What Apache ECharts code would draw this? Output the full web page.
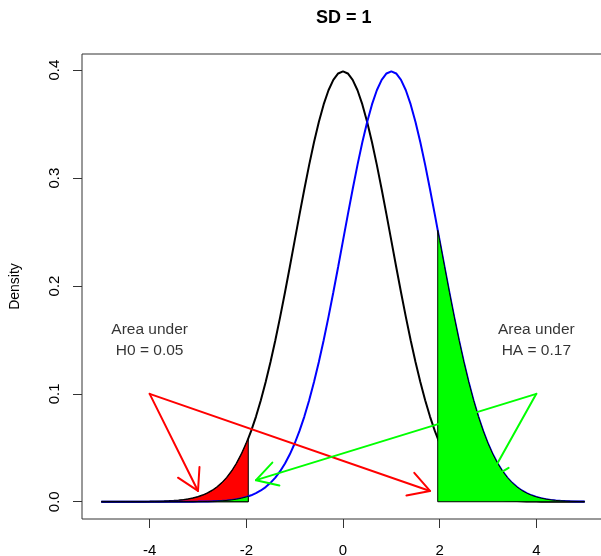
<!DOCTYPE html>
<html>
<head>
<meta charset="utf-8">
<title>SD = 1</title>
<script src="https://cdn.jsdelivr.net/npm/echarts@6/dist/echarts.min.js"></script>
<style>
  html, body { margin: 0; padding: 0; background: #fff; }
  #chart { width: 601px; height: 556px; }
</style>
</head>
<body>
<div id="chart"></div>
<script>
// Sampling positions along x (step 0.1 from -5 to 5)
const xs = Array.from({ length: 101 }, (_, i) => +(-5 + i * 0.1).toFixed(1));

// Density under H0 (mean 0, sd 1) at each x
const densityH0 = [
  0.00000, 0.00000, 0.00000, 0.00001, 0.00001, 0.00002, 0.00002, 0.00004, 0.00006, 0.00009,
  0.00013, 0.00020, 0.00029, 0.00042, 0.00061, 0.00087, 0.00123, 0.00172, 0.00238, 0.00327,
  0.00443, 0.00595, 0.00792, 0.01042, 0.01358, 0.01753, 0.02239, 0.02833, 0.03547, 0.04398,
  0.05399, 0.06562, 0.07895, 0.09405, 0.11092, 0.12952, 0.14973, 0.17137, 0.19419, 0.21785,
  0.24197, 0.26609, 0.28969, 0.31225, 0.33322, 0.35207, 0.36827, 0.38139, 0.39104, 0.39695,
  0.39894,
  0.39695, 0.39104, 0.38139, 0.36827, 0.35207, 0.33322, 0.31225, 0.28969, 0.26609, 0.24197,
  0.21785, 0.19419, 0.17137, 0.14973, 0.12952, 0.11092, 0.09405, 0.07895, 0.06562, 0.05399,
  0.04398, 0.03547, 0.02833, 0.02239, 0.01753, 0.01358, 0.01042, 0.00792, 0.00595, 0.00443,
  0.00327, 0.00238, 0.00172, 0.00123, 0.00087, 0.00061, 0.00042, 0.00029, 0.00020, 0.00013,
  0.00009, 0.00006, 0.00004, 0.00002, 0.00002, 0.00001, 0.00001, 0.00000, 0.00000, 0.00000
];

// Density under HA (mean 1, sd 1) at each x
const densityHA = [
  0.00000, 0.00000, 0.00000, 0.00000, 0.00000, 0.00000, 0.00000, 0.00000, 0.00000, 0.00000,
  0.00000, 0.00000, 0.00000, 0.00001, 0.00001, 0.00002, 0.00002, 0.00004, 0.00006, 0.00009,
  0.00013, 0.00020, 0.00029, 0.00042, 0.00061, 0.00087, 0.00123, 0.00172, 0.00238, 0.00327,
  0.00443, 0.00595, 0.00792, 0.01042, 0.01358, 0.01753, 0.02239, 0.02833, 0.03547, 0.04398,
  0.05399, 0.06562, 0.07895, 0.09405, 0.11092, 0.12952, 0.14973, 0.17137, 0.19419, 0.21785,
  0.24197, 0.26609, 0.28969, 0.31225, 0.33322, 0.35207, 0.36827, 0.38139, 0.39104, 0.39695,
  0.39894,
  0.39695, 0.39104, 0.38139, 0.36827, 0.35207, 0.33322, 0.31225, 0.28969, 0.26609, 0.24197,
  0.21785, 0.19419, 0.17137, 0.14973, 0.12952, 0.11092, 0.09405, 0.07895, 0.06562, 0.05399,
  0.04398, 0.03547, 0.02833, 0.02239, 0.01753, 0.01358, 0.01042, 0.00792, 0.00595, 0.00443,
  0.00327, 0.00238, 0.00172, 0.00123, 0.00087, 0.00061, 0.00042, 0.00029, 0.00020, 0.00013
];

// Critical values and the densities at them
const cutLow = -1.96;
const cutHigh = 1.96;
const h0AtCutLow = 0.05844;
const haAtCutLow = 0.00499;
const haAtCutHigh = 0.25164;

// Tick labels
const xTicks = [-4, -2, 0, 2, 4];
const yTicks = [0, 0.1, 0.2, 0.3, 0.4];

// Annotations: [x, y, text]
const notes = [
  [-4, 0.15, 'Area under\nH0 = 0.05'],
  [4, 0.15, 'Area under\nHA = 0.17']
];

// Arrows: [x0, y0, x1, y1]
const redArrows = [[-4, 0.1, -3, 0.01], [-4, 0.1, 1.8, 0.01]];
const greenArrows = [[4, 0.1, 3, 0.02], [4, 0.1, -1.8, 0.02]];

const pairs = (ys) => xs.map((x, i) => [x, ys[i]]);
const curveH0 = pairs(densityH0);
const curveHA = pairs(densityHA);

// Tail regions as closed polygons
const redTail = curveH0.filter(p => p[0] <= -2 + 1e-9)
  .concat([[cutLow, h0AtCutLow], [cutLow, 0], [-5, 0]]);
const greenLeftTail = curveHA.filter(p => p[0] <= -2 + 1e-9)
  .concat([[cutLow, haAtCutLow], [cutLow, 0], [-5, 0]]);
const greenRightTail = [[cutHigh, 0], [cutHigh, haAtCutHigh]]
  .concat(curveHA.filter(p => p[0] >= 2 - 1e-9))
  .concat([[5, 0]]);

function polygonSeries(points, fill, z) {
  return {
    type: 'custom',
    z: z,
    silent: true,
    data: points,
    renderItem: function (params, api) {
      if (params.dataIndex !== 0) return;
      return {
        type: 'polygon',
        shape: { points: points.map(p => api.coord(p)) },
        style: { fill: fill, stroke: '#000', lineWidth: 1 }
      };
    }
  };
}

function arrowSeries(list, color, z) {
  const headLen = 24;
  const headAngle = Math.PI / 6;
  return {
    type: 'custom',
    z: z,
    silent: true,
    data: list,
    renderItem: function (params, api) {
      const p0 = api.coord([api.value(0), api.value(1)]);
      const p1 = api.coord([api.value(2), api.value(3)]);
      const a = Math.atan2(p1[1] - p0[1], p1[0] - p0[0]);
      const b1 = [p1[0] - headLen * Math.cos(a - headAngle), p1[1] - headLen * Math.sin(a - headAngle)];
      const b2 = [p1[0] - headLen * Math.cos(a + headAngle), p1[1] - headLen * Math.sin(a + headAngle)];
      const style = { stroke: color, lineWidth: 2, fill: null, lineCap: 'round', lineJoin: 'round' };
      return {
        type: 'group',
        children: [
          { type: 'polyline', shape: { points: [p0, p1] }, style: style },
          { type: 'polyline', shape: { points: [b1, p1, b2] }, style: style }
        ]
      };
    }
  };
}

const FONT = '"Liberation Sans", Arial, Helvetica, sans-serif';
const chart = echarts.init(document.getElementById('chart'), null, { renderer: 'canvas' });

chart.setOption({
  animation: false,
  backgroundColor: '#fff',
  title: {
    text: 'SD = 1',
    left: 311,
    top: 4,
    textStyle: { fontFamily: FONT, fontSize: 18, fontWeight: 'bold', color: '#000' }
  },
  grid: {
    left: 82, top: 54, bottom: 37, right: -3,
    show: true, borderColor: '#333', borderWidth: 1,
    outerBoundsMode: 'none'
  },
  xAxis: {
    type: 'value',
    min: -5.4, max: 5.4,
    axisLine: { show: false, onZero: false },
    splitLine: { show: false },
    axisTick: { show: true, inside: false, length: 9, customValues: xTicks, lineStyle: { color: '#333', width: 1 } },
    axisLabel: {
      customValues: xTicks, margin: 24,
      fontFamily: FONT, fontSize: 15, color: '#000',
      formatter: v => String(v)
    }
  },
  yAxis: {
    type: 'value',
    min: -0.016, max: 0.415,
    name: 'Density',
    nameLocation: 'middle',
    nameRotate: 90,
    nameGap: 60,
    nameTextStyle: { fontFamily: FONT, fontSize: 14, color: '#000' },
    axisLine: { show: false, onZero: false },
    splitLine: { show: false },
    axisTick: { show: true, inside: false, length: 9, customValues: yTicks, lineStyle: { color: '#333', width: 1 } },
    axisLabel: {
      customValues: yTicks, rotate: 90, margin: 20,
      fontFamily: FONT, fontSize: 15, color: '#000',
      formatter: v => v.toFixed(1)
    }
  },
  series: [
    {
      type: 'line', name: 'H0', data: curveH0, z: 2,
      showSymbol: false, symbol: 'none', silent: true,
      lineStyle: { color: '#000', width: 2 }
    },
    polygonSeries(redTail, '#ff0000', 3),
    {
      type: 'line', name: 'HA', data: curveHA, z: 4,
      showSymbol: false, symbol: 'none', silent: true,
      lineStyle: { color: '#0000ff', width: 2 }
    },
    polygonSeries(greenLeftTail, '#00ff00', 5),
    polygonSeries(greenRightTail, '#00ff00', 5),
    arrowSeries(redArrows, '#ff0000', 6),
    arrowSeries(greenArrows, '#00ff00', 6),
    {
      type: 'scatter', z: 7, silent: true,
      symbolSize: 0,
      data: notes.map(n => ({ value: [n[0], n[1]], label: { formatter: n[2] } })),
      label: {
        show: true, position: 'inside',
        fontFamily: FONT, fontSize: 15.5, lineHeight: 21, color: '#000', align: 'center'
      }
    }
  ]
});
</script>
</body>
</html>
